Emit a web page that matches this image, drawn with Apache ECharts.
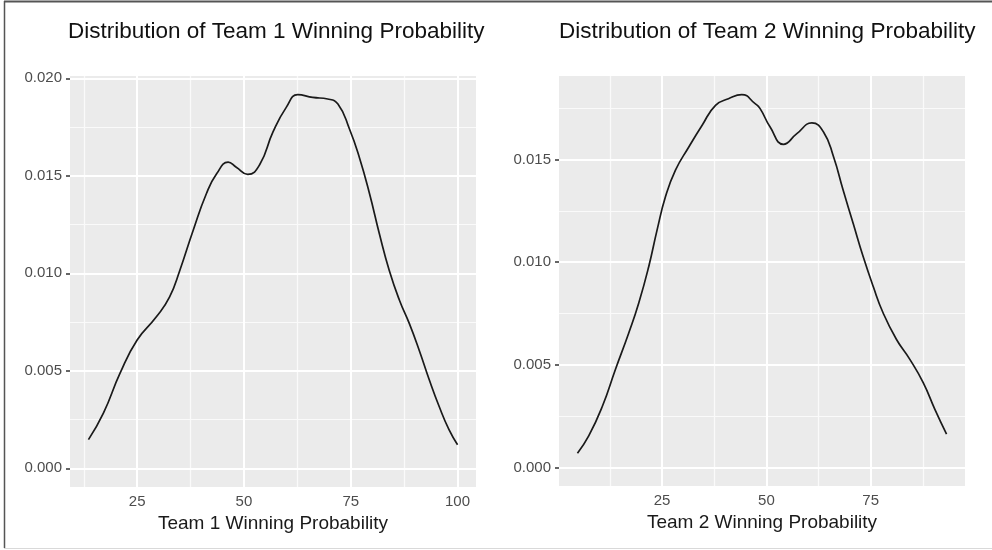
<!DOCTYPE html>
<html>
<head>
<meta charset="utf-8">
<script src="https://cdn.jsdelivr.net/npm/echarts@6/dist/echarts.min.js"></script>
<style>
    html, body { margin: 0; padding: 0; background: #fff; }
    #chart { width: 992px; height: 550px; }
</style>
</head>
<body>
<div id="chart"></div>
<script>
// 左图 Team 1 密度曲线
var team1X = [13.6, 17.1, 21.0, 25.0, 29.5, 32.6, 35.0, 38.1, 41.2, 43.6, 46.3, 48.2, 50.9, 53.7, 56.8, 59.9,
    62.6, 66.1, 69.6, 72.0, 74.7, 77.0, 79.4, 81.7, 84.0, 86.4, 88.7, 91.0, 93.4, 95.7, 98.0, 100.0];
var team1Density = [0.00147, 0.00283, 0.00488, 0.00658, 0.00777, 0.00879, 0.01016, 0.0122, 0.01408, 0.0151,
    0.0157, 0.01544, 0.01507, 0.01558, 0.01725, 0.01851, 0.01916, 0.01902, 0.01894, 0.01868, 0.0174, 0.01595,
    0.01408, 0.01203, 0.01016, 0.00862, 0.00743, 0.00607, 0.00453, 0.00317, 0.00198, 0.00121];

// 右图 Team 2 密度曲线
var team2X = [4.7, 7.4, 10.7, 13.8, 17.0, 19.4, 21.8, 23.8, 25.8, 28.2, 31.4, 34.6, 37.8, 40.9, 44.1, 47.3,
    48.5, 50.9, 54.1, 57.3, 60.9, 63.7, 66.1, 68.4, 70.8, 73.2, 75.6, 78.0, 81.2, 84.4, 87.6, 90.4, 93.2];
var team2Density = [0.00069, 0.00153, 0.00299, 0.00477, 0.00655, 0.00801, 0.00979, 0.01157, 0.01318, 0.01448,
    0.01561, 0.01667, 0.01764, 0.01796, 0.01816, 0.01772, 0.01748, 0.01658, 0.01574, 0.01626, 0.01678, 0.01634,
    0.01513, 0.01351, 0.01189, 0.01027, 0.00882, 0.00752, 0.00623, 0.00526, 0.00413, 0.00283, 0.00162];

// 刻度
var xMajor1 = [25, 50, 75, 100];
var xMinor1 = [12.5, 37.5, 62.5, 87.5];
var yMajor1 = [0, 0.005, 0.01, 0.015, 0.02];
var xMajor2 = [25, 50, 75];
var xMinor2 = [12.5, 37.5, 62.5, 87.5];
var yMajor2 = [0, 0.005, 0.01, 0.015];
var yMinor = [0.0025, 0.0075, 0.0125, 0.0175];

var titles = ['Distribution of Team 1 Winning Probability', 'Distribution of Team 2 Winning Probability'];
var xNames = ['Team 1 Winning Probability', 'Team 2 Winning Probability'];

var FONT = 'Liberation Sans, Arial, Helvetica, sans-serif';

// ggplot 默认 5% 扩展
function expand(min, max) {
    var pad = (max - min) * 0.05;
    return [min - pad, max + pad];
}
function zip(xs, ys) {
    return xs.map(function (x, i) { return [x, ys[i]]; });
}
function lineItems(dim, values, width, color) {
    return values.map(function (v) {
        var item = { lineStyle: { width: width, color: color } };
        item[dim] = v;
        return item;
    });
}
// 网格线用一个空 series 的 markLine 画
function gridSeries(idx, dim, values, width, color) {
    return {
        type: 'scatter', xAxisIndex: idx, yAxisIndex: idx, data: [], silent: true, z: 1,
        markLine: { silent: true, symbol: 'none', z: 1, label: { show: false }, precision: 6,
            lineStyle: { type: 'solid' }, data: lineItems(dim, values, width, color) }
    };
}
function xAxisOf(idx, range, ticks) {
    return {
        type: 'value', gridIndex: idx, min: range[0], max: range[1],
        axisLine: { show: false },
        splitLine: { show: false },
        axisTick: { show: true, length: 4, customValues: ticks, lineStyle: { color: '#333', width: 1.5 } },
        axisLabel: { customValues: ticks, margin: 7, color: '#4d4d4d', fontSize: 15, fontFamily: FONT },
        name: xNames[idx], nameLocation: 'middle', nameGap: 26,
        nameTextStyle: { color: '#1a1a1a', fontSize: 19, fontFamily: FONT }
    };
}
function yAxisOf(idx, range, ticks) {
    return {
        type: 'value', gridIndex: idx, min: range[0], max: range[1],
        axisLine: { show: false },
        splitLine: { show: false },
        axisTick: { show: true, length: 4, customValues: ticks, lineStyle: { color: '#333', width: 1.5 } },
        axisLabel: {
            customValues: ticks, margin: 8, color: '#4d4d4d', fontSize: 15, fontFamily: FONT,
            formatter: function (v) { return v.toFixed(3); }
        }
    };
}

var x1Range = expand(Math.min.apply(null, team1X), Math.max.apply(null, team1X));
var y1Range = expand(0, Math.max.apply(null, team1Density));
var x2Range = expand(Math.min.apply(null, team2X), Math.max.apply(null, team2X));
var y2Range = expand(0, Math.max.apply(null, team2Density));

var MINOR = '#fafafa';
var MAJOR = '#ffffff';

var myChart = echarts.init(document.getElementById('chart'));
myChart.setOption({
    animation: false,
    backgroundColor: '#ffffff',
    title: [
        { text: titles[0], left: 68, top: 20, padding: 0,
          textStyle: { fontSize: 22.5, fontWeight: 'normal', color: '#111', fontFamily: FONT } },
        { text: titles[1], left: 559, top: 20, padding: 0,
          textStyle: { fontSize: 22.5, fontWeight: 'normal', color: '#111', fontFamily: FONT } }
    ],
    grid: [
        { left: 70, right: 516, top: 76, bottom: 63, show: true, backgroundColor: '#ebebeb', borderWidth: 0 },
        { left: 559, right: 27, top: 76, bottom: 64, show: true, backgroundColor: '#ebebeb', borderWidth: 0 }
    ],
    xAxis: [xAxisOf(0, x1Range, xMajor1), xAxisOf(1, x2Range, xMajor2)],
    yAxis: [yAxisOf(0, y1Range, yMajor1), yAxisOf(1, y2Range, yMajor2)],
    // 外框
    graphic: [
        { type: 'line', shape: { x1: 4, y1: 1.5, x2: 992, y2: 1.5 }, style: { stroke: '#555', lineWidth: 2 } },
        { type: 'line', shape: { x1: 4.5, y1: 1, x2: 4.5, y2: 548 }, style: { stroke: '#555', lineWidth: 1.5 } },
        { type: 'line', shape: { x1: 4, y1: 548.5, x2: 992, y2: 548.5 }, style: { stroke: '#d9d9d9', lineWidth: 1 } }
    ],
    series: [
        gridSeries(0, 'xAxis', xMinor1, 1.2, MINOR),
        gridSeries(0, 'yAxis', yMinor, 1.2, MINOR),
        gridSeries(0, 'xAxis', xMajor1, 2, MAJOR),
        gridSeries(0, 'yAxis', yMajor1, 2, MAJOR),
        gridSeries(1, 'xAxis', xMinor2, 1.2, MINOR),
        gridSeries(1, 'yAxis', yMinor, 1.2, MINOR),
        gridSeries(1, 'xAxis', xMajor2, 2, MAJOR),
        gridSeries(1, 'yAxis', yMajor2, 2, MAJOR),
        {
            type: 'line', xAxisIndex: 0, yAxisIndex: 0, z: 5, smooth: 0.5, symbol: 'none',
            lineStyle: { color: '#1a1a1a', width: 1.7 },
            data: zip(team1X, team1Density)
        },
        {
            type: 'line', xAxisIndex: 1, yAxisIndex: 1, z: 5, smooth: 0.5, symbol: 'none',
            lineStyle: { color: '#1a1a1a', width: 1.7 },
            data: zip(team2X, team2Density)
        }
    ]
});
window.addEventListener('resize', function () { myChart.resize(); });
</script>
</body>
</html>
